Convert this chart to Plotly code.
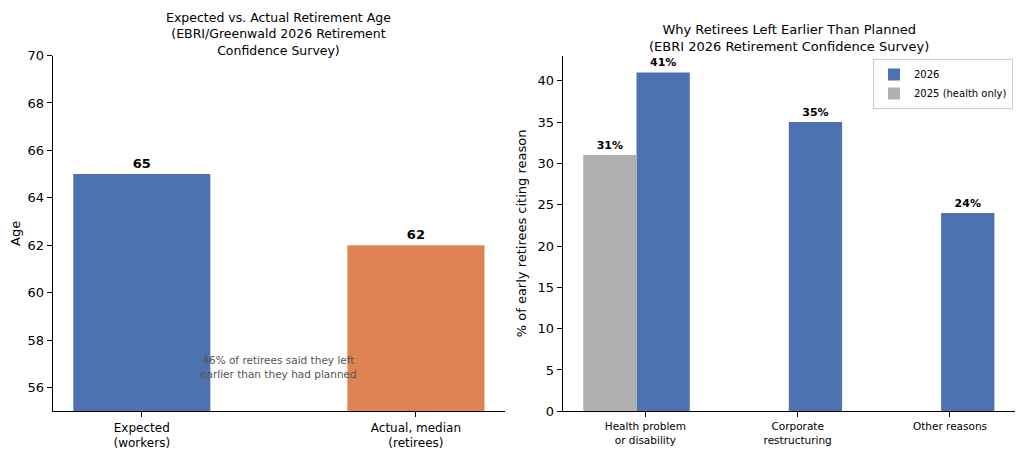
import plotly.graph_objects as go

# left panel: expected vs actual retirement age
age_labels = ["Expected<br>(workers)", "Actual, median<br>(retirees)"]
age_values = [65, 62]
age_colors = ["#4C72B0", "#DD8452"]

# right panel: reasons for leaving early
reasons = ["Health problem<br>or disability", "Corporate<br>restructuring", "Other reasons"]
pct_2026 = [41, 35, 24]
pct_2025 = [31]  # health only

# page body has an 8px margin, so size/position the figure around it
OFF = 8
W = 1024 - 2 * OFF
H = 457 - 2 * OFF
FONT = "DejaVu Sans"
w = 0.35


def px(x):
    return (x - OFF) / W


def py(y):
    return 1 - (y - OFF) / H


fig = go.Figure()

fig.add_trace(go.Bar(
    x=[0, 1], y=age_values, width=0.5, marker_color=age_colors,
    marker_line_width=0, text=[f"<b>{v}</b>" for v in age_values],
    textposition="outside", textfont=dict(size=13, color="black"),
    cliponaxis=False, showlegend=False, xaxis="x", yaxis="y",
))

xr = list(range(len(reasons)))
fig.add_trace(go.Bar(
    x=[i + w / 3 for i in xr], y=pct_2026, width=w, name="2026",
    marker_color="#4C72B0", marker_line_width=0,
    text=[f"<b>{v}%</b>" for v in pct_2026], textposition="outside",
    textfont=dict(size=11, color="black"), cliponaxis=False,
    xaxis="x2", yaxis="y2",
))
fig.add_trace(go.Bar(
    x=[xr[0] - 2 * w / 3], y=pct_2025, width=w, name="2025 (health only)",
    marker_color="#B0B0B0", marker_line_width=0,
    text=[f"<b>{v}%</b>" for v in pct_2025], textposition="outside",
    textfont=dict(size=11, color="black"), cliponaxis=False,
    xaxis="x2", yaxis="y2",
))

axis_common = dict(showline=True, linecolor="black", linewidth=1, ticks="outside",
                   ticklen=5, tickcolor="black", showgrid=False, zeroline=False,
                   mirror=False, automargin=False)

fig.update_layout(
    width=W, height=H,
    margin=dict(l=0, r=0, t=0, b=0),
    paper_bgcolor="white", plot_bgcolor="white",
    font=dict(family=FONT, color="black"),
    barmode="overlay",
    xaxis=dict(domain=[px(52.7), px(505)], range=[-0.325, 1.325],
               tickvals=[0, 1], ticktext=age_labels, tickfont=dict(size=12),
               anchor="y", **axis_common),
    yaxis=dict(domain=[py(411.3), py(55.5)], range=[55, 70],
               tickvals=list(range(56, 71, 2)), tickfont=dict(size=13),
               title=dict(text="Age", font=dict(size=13), standoff=7),
               anchor="x", **axis_common),
    xaxis2=dict(domain=[px(562.7), px(1015)], range=[-0.543, 2.427],
                tickvals=xr, ticktext=reasons, tickfont=dict(size=10.5),
                anchor="y2", **axis_common),
    yaxis2=dict(domain=[py(411.3), py(55.5)], range=[0, 43.05],
                tickvals=list(range(0, 41, 5)), tickfont=dict(size=13),
                title=dict(text="% of early retirees citing reason", font=dict(size=13), standoff=7),
                anchor="x2", **axis_common),
    legend=dict(x=px(1013), y=py(59), xanchor="right", yanchor="top",
                bgcolor="white", bordercolor="#CCCCCC", borderwidth=1,
                font=dict(size=10), traceorder="normal", itemwidth=30,
                tracegroupgap=0),
    annotations=[
        dict(text="Expected vs. Actual Retirement Age<br>(EBRI/Greenwald 2026 Retirement<br>Confidence Survey)",
             x=(px(52.7) + px(505)) / 2, y=py(8), xref="paper", yref="paper",
             xanchor="center", yanchor="top", showarrow=False,
             font=dict(size=12.5)),
        dict(text="Why Retirees Left Earlier Than Planned<br>(EBRI 2026 Retirement Confidence Survey)",
             x=(px(562.7) + px(1015)) / 2, y=py(20), xref="paper", yref="paper",
             xanchor="center", yanchor="top", showarrow=False,
             font=dict(size=13)),
        dict(text="46% of retirees said they left<br>earlier than they had planned",
             x=0.5, y=56.85, xref="x", yref="y", showarrow=False,
             xanchor="center", yanchor="middle",
             font=dict(size=10.5, color="#555555")),
    ],
)

fig.write_html("out.html")
